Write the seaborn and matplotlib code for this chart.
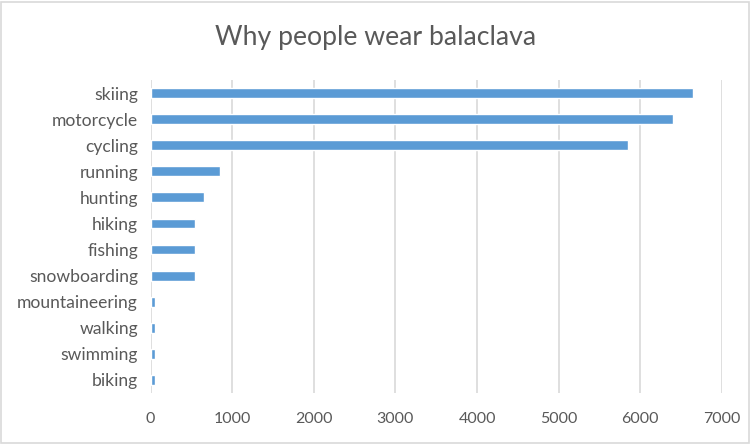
import matplotlib
matplotlib.use('Agg')
import matplotlib.pyplot as plt
import seaborn as sns
import pandas as pd
from matplotlib.patches import Rectangle

activities = ['skiing', 'motorcycle', 'cycling', 'running', 'hunting', 'hiking',
              'fishing', 'snowboarding', 'mountaineering', 'walking', 'swimming', 'biking']
counts = [6650, 6400, 5850, 850, 650, 550, 550, 550, 50, 50, 50, 50]
xticks = [0, 1000, 2000, 3000, 4000, 5000, 6000, 7000]

df = pd.DataFrame({'activity': activities, 'count': counts})

sns.set_theme(style='white')
plt.rcParams['font.family'] = ['Lato', 'DejaVu Sans']
txt = '#595959'
grid = '#d9d9d9'

fig = plt.figure(figsize=(7.52, 4.45), dpi=100)
ax = fig.add_axes([150.5/752, 1-393/445, (722-150.5)/752, (393-80)/445])

sns.barplot(data=df, x='count', y='activity', orient='h', color='#5b9bd5',
            width=0.38, saturation=1, ax=ax, zorder=3)

ax.set_xlim(0, 7000)
ax.set_ylim(11.5, -0.5)
ax.set_xticks(xticks)
ax.set_xticklabels([str(t) for t in xticks])
ax.xaxis.grid(True, color=grid, linewidth=1.2, zorder=0)
ax.yaxis.grid(False)
ax.set_axisbelow(True)
for s in ax.spines.values():
    s.set_visible(False)
ax.tick_params(axis='both', length=0, colors=txt, labelsize=12)
ax.tick_params(axis='x', pad=12)
ax.tick_params(axis='y', pad=9)
ax.set_xlabel('')
ax.set_ylabel('')

title = fig.text(0.5, 1-37/445, 'Why people wear balaclava', ha='center', va='center',
                 fontsize=18, color=txt)

# size the text so it spans what the reference shows (in pixels)
fig.canvas.draw()
r = fig.canvas.get_renderer()
ylab = [t for t in ax.get_yticklabels() if t.get_text() == 'mountaineering'][0]
xlab = ax.get_xticklabels()[-1]
ys = 12 * 121 / ylab.get_window_extent(r).width
xs = 12 * 37 / xlab.get_window_extent(r).width
title.set_fontsize(18 * 320 / title.get_window_extent(r).width)
ax.tick_params(axis='y', labelsize=ys)
ax.tick_params(axis='x', labelsize=xs)

# move x labels so the digits sit centred near y=417 px
fig.canvas.draw()
bb = ax.get_xticklabels()[-1].get_window_extent(r)
cy = 445 - (bb.y0 + bb.y1) / 2
ax.tick_params(axis='x', pad=12 + (419 - cy) * 0.72)

fig.patches.append(Rectangle((1.5/752, 2/445), 747.5/752, 441/445, transform=fig.transFigure,
                             fill=False, edgecolor=grid, linewidth=1.2))

fig.savefig('out.png', dpi=100)
